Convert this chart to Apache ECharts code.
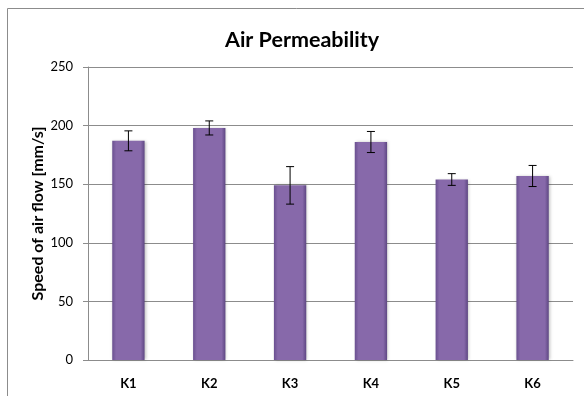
<!DOCTYPE html>
<html>
<head>
<meta charset="utf-8">
<script src="https://cdn.jsdelivr.net/npm/echarts@6/dist/echarts.min.js"></script>
<style>
  html, body { margin: 0; padding: 0; background: #fff; }
  #container { width: 584px; height: 396px; }
</style>
</head>
<body>
<div id="container"></div>
<script>
var categories = ['K1', 'K2', 'K3', 'K4', 'K5', 'K6'];
var speeds = [187, 198, 149, 186, 154, 157];
var errors = [8.5, 6, 16, 9, 5, 9];
var yTicks = [0, 50, 100, 150, 200, 250];

var myChart = echarts.init(document.getElementById('container'));

// error bar data: [index, low, high]
var errData = speeds.map(function (v, i) {
    return [i, v - errors[i], v + errors[i]];
});

var barColor = new echarts.graphic.LinearGradient(0, 0, 1, 0, [
    {offset: 0, color: '#6a5090'},
    {offset: 0.12, color: '#8769aa'},
    {offset: 0.88, color: '#8769aa'},
    {offset: 1, color: '#5e4783'}
]);

var option = {
    animation: false,
    title: {
        text: 'Air Permeability',
        left: 220,
        top: 24,
        textStyle: {fontFamily: 'Lato', fontSize: 21.5, fontWeight: 'bold', color: '#000'}
    },
    graphic: [{
        type: 'rect',
        shape: {x: 7.5, y: 8.5, width: 620, height: 420},
        style: {fill: 'none', stroke: '#8c8c8c', lineWidth: 1},
        silent: true
    }],
    grid: {left: 88, right: 11, top: 67, bottom: 36},
    xAxis: {
        type: 'category',
        data: categories,
        axisLine: {lineStyle: {color: '#8c8c8c'}},
        axisTick: {show: false},
        axisLabel: {fontFamily: 'Lato', fontSize: 13, fontWeight: 'bold', color: '#000', margin: 17}
    },
    yAxis: {
        type: 'value',
        min: yTicks[0],
        max: yTicks[yTicks.length - 1],
        interval: 50,
        name: 'Speed of air flow [mm/s]',
        nameLocation: 'middle',
        nameGap: 42,
        nameMoveOverlap: false,
        nameTextStyle: {fontFamily: 'Lato', fontSize: 16, fontWeight: 'bold', color: '#000'},
        axisLine: {show: true, lineStyle: {color: '#8c8c8c'}},
        axisTick: {show: true, length: 5, lineStyle: {color: '#8c8c8c'}},
        splitLine: {lineStyle: {color: '#8c8c8c'}},
        axisLabel: {fontFamily: 'Lato', fontSize: 13, color: '#000', margin: 15}
    },
    series: [{
        name: 'Speed',
        type: 'bar',
        data: speeds,
        barWidth: '40%',
        itemStyle: {
            color: barColor,
            shadowColor: 'rgba(0,0,0,0.25)',
            shadowBlur: 3,
            shadowOffsetX: 1
        }
    }, {
        name: 'Error',
        type: 'custom',
        data: errData,
        z: 5,
        renderItem: function (params, api) {
            var x = api.value(0);
            var lo = api.coord([x, api.value(1)]);
            var hi = api.coord([x, api.value(2)]);
            var hw = 4;
            var st = {stroke: '#000', lineWidth: 1};
            return {
                type: 'group',
                children: [
                    {type: 'line', shape: {x1: hi[0], y1: hi[1], x2: lo[0], y2: lo[1]}, style: st},
                    {type: 'line', shape: {x1: hi[0] - hw, y1: hi[1], x2: hi[0] + hw, y2: hi[1]}, style: st},
                    {type: 'line', shape: {x1: lo[0] - hw, y1: lo[1], x2: lo[0] + hw, y2: lo[1]}, style: st}
                ]
            };
        }
    }]
};
myChart.setOption(option);
</script>
</body>
</html>
